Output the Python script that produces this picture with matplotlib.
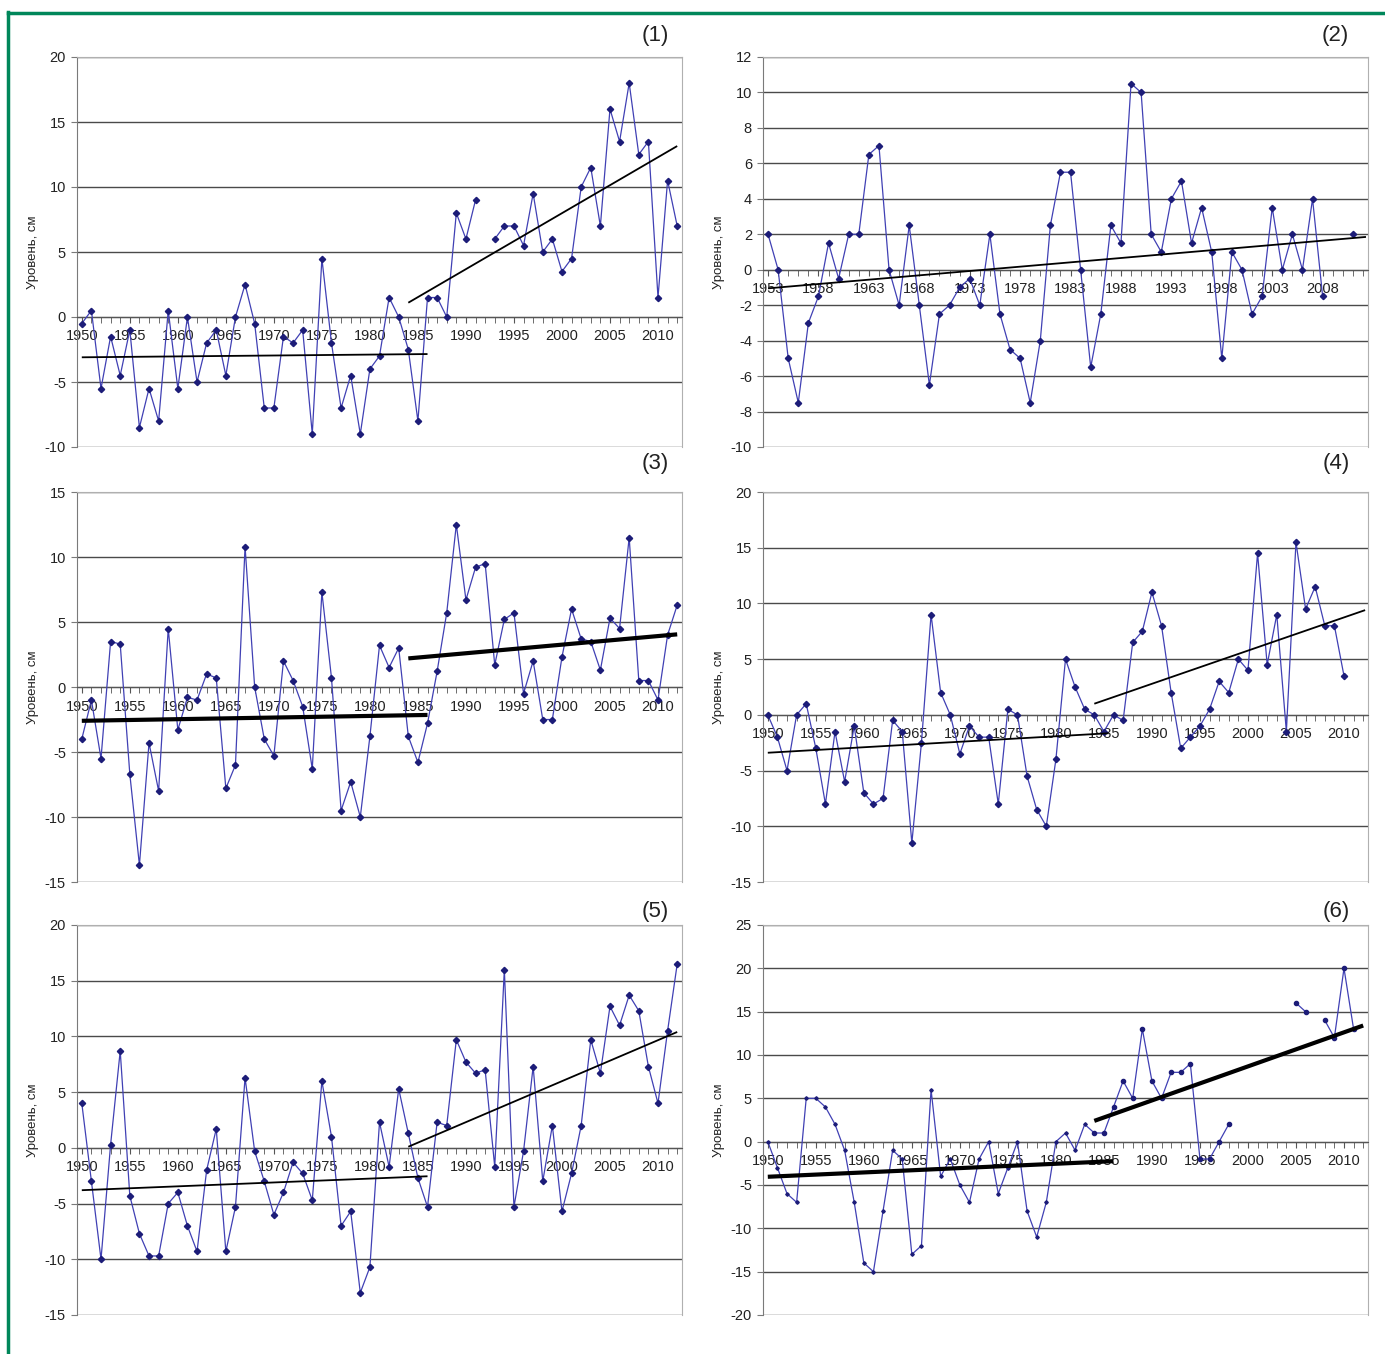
import numpy as np
import matplotlib
matplotlib.use("Agg")
import matplotlib.pyplot as plt
from matplotlib.lines import Line2D
from matplotlib.ticker import MultipleLocator, FixedLocator

plt.rcParams['font.family'] = ['Liberation Sans', 'DejaVu Sans']
plt.rcParams['axes.unicode_minus'] = False

nan = np.nan

# (1)
years1 = np.arange(1950, 2013)
level1 = [-0.5, 0.5, -5.5, -1.5, -4.5, -1, -8.5, -5.5, -8, 0.5,
          -5.5, 0, -5, -2, -1, -4.5, 0, 2.5, -0.5, -7,
          -7, -1.5, -2, -1, -9, 4.5, -2, -7, -4.5, -9,
          -4, -3, 1.5, 0, -2.5, -8, 1.5, 1.5, 0, 8,
          6, 9, nan, 6, 7, 7, 5.5, 9.5, 5, 6,
          3.5, 4.5, 10, 11.5, 7, 16, 13.5, 18, 12.5, 13.5,
          1.5, 10.5, 7]
trend1_early = ([1950, 1986], [-3.1, -2.85])
trend1_late = ([1984, 2012], [1.1, 13.15])

# (2)
years2 = np.arange(1953, 2012)
level2 = [2, 0, -5, -7.5, -3, -1.5, 1.5, -0.5, 2, 2,
          6.5, 7, 0, -2, 2.5, -2, -6.5, -2.5, -2, -1,
          -0.5, -2, 2, -2.5, -4.5, -5, -7.5, -4, 2.5, 5.5,
          5.5, 0, -5.5, -2.5, 2.5, 1.5, 10.5, 10, 2, 1,
          4, 5, 1.5, 3.5, 1, -5, 1, 0, -2.5, -1.5,
          3.5, 0, 2, 0, 4, -1.5, nan, nan, 2]
trend2 = ([1953, 2012.3], [-1.05, 1.85])

# (3)
years3 = np.arange(1950, 2013)
level3 = [-4, -1, -5.5, 3.5, 3.3, -6.7, -13.7, -4.3, -8, 4.5,
          -3.3, -0.8, -1, 1, 0.7, -7.8, -6, 10.8, 0, -4,
          -5.3, 2, 0.5, -1.5, -6.3, 7.3, 0.7, -9.5, -7.3, -10,
          -3.8, 3.2, 1.5, 3, -3.8, -5.8, -2.8, 1.2, 5.7, 12.5,
          6.7, 9.2, 9.5, 1.7, 5.2, 5.7, -0.5, 2, -2.5, -2.5,
          2.3, 6, 3.7, 3.5, 1.3, 5.3, 4.5, 11.5, 0.5, 0.5,
          -1, 4, 6.3]
trend3_early = ([1950, 1986], [-2.6, -2.15])
trend3_late = ([1984, 2012], [2.2, 4.05])

# (4)
years4 = np.arange(1950, 2011)
level4 = [0, -2, -5, 0, 1, -3, -8, -1.5, -6, -1,
          -7, -8, -7.5, -0.5, -1.5, -11.5, -2.5, 9, 2, 0,
          -3.5, -1, -2, -2, -8, 0.5, 0, -5.5, -8.5, -10,
          -4, 5, 2.5, 0.5, 0, -1.5, 0, -0.5, 6.5, 7.5,
          11, 8, 2, -3, -2, -1, 0.5, 3, 2, 5,
          4, 14.5, 4.5, 9, -1.5, 15.5, 9.5, 11.5, 8, 8,
          3.5]
trend4_early = ([1950, 1985.5], [-3.4, -1.65])
trend4_late = ([1984, 2012.2], [1.0, 9.4])

# (5)
years5 = np.arange(1950, 2013)
level5 = [4, -3, -10, 0.3, 8.7, -4.3, -7.7, -9.7, -9.7, -5,
          -4, -7, -9.3, -2, 1.7, -9.3, -5.3, 6.3, -0.3, -3,
          -6, -4, -1.3, -2.3, -4.7, 6, 1, -7, -5.7, -13,
          -10.7, 2.3, -1.7, 5.3, 1.3, -2.7, -5.3, 2.3, 2, 9.7,
          7.7, 6.7, 7, -1.7, 16, -5.3, -0.3, 7.3, -3, 2,
          -5.7, -2.3, 2, 9.7, 6.7, 12.7, 11, 13.7, 12.3, 7.3,
          4, 10.5, 16.5]
trend5_early = ([1950, 1986], [-3.8, -2.55])
trend5_late = ([1984, 2012], [0.1, 10.4])

# (6)
years6 = np.arange(1950, 2012)
level6 = [0, -3, -6, -7, 5, 5, 4, 2, -1, -7,
          -14, -15, -8, -1, -2, -13, -12, 6, -4, -2,
          -5, -7, -2, 0, -6, -3, 0, -8, -11, -7,
          0, 1, -1, 2, 1, 1, 4, 7, 5, 13,
          7, 5, 8, 8, 9, -2, -2, 0, 2, nan,
          nan, nan, nan, nan, nan, 16, 15, nan, 14, 12,
          20, 13]
trend6_early = ([1950, 1986], [-4.05, -2.25])
trend6_late = ([1984, 2012], [2.4, 13.4])

LINE_C = '#4040b4'
MARK_C = '#1c1c78'
GRID_C = '#4a4a4a'
W, H = 1385, 1354


def panel(rect, years, level, trends, ylim, ystep, label_years, xlim, trend_lw, tag, tag_xy,
          small_before=None):
    ax = fig.add_axes([rect[0] / W, 1 - rect[3] / H, (rect[2] - rect[0]) / W, (rect[3] - rect[1]) / H])
    years = np.asarray(years)
    level = np.asarray(level, dtype=float)
    ax.plot(years, level, color=LINE_C, lw=0.9, zorder=3)
    if small_before is None:
        ax.plot(years, level, ls='none', marker='D', ms=3.2, color=MARK_C, zorder=4)
    else:
        m = years < small_before
        ax.plot(years[m], level[m], ls='none', marker='D', ms=1.8, color=MARK_C, zorder=4)
        ax.plot(years[~m], level[~m], ls='none', marker='o', ms=3.0, color=MARK_C, zorder=4)
    for tx, ty in trends:
        ax.plot(tx, ty, color='black', lw=trend_lw, solid_capstyle='butt', zorder=5)

    ax.set_xlim(*xlim)
    ax.set_ylim(*ylim)
    ax.yaxis.set_major_locator(MultipleLocator(ystep))
    ax.yaxis.grid(True, color=GRID_C, lw=1.0)
    ax.set_axisbelow(True)

    ax.spines['bottom'].set_position(('data', 0))
    ax.spines['bottom'].set_color('#555555')
    ax.spines['left'].set_color('#7a7a7a')
    ax.spines['top'].set_color('#b0b0b0')
    ax.spines['right'].set_color('#b0b0b0')
    ax.xaxis.set_major_locator(FixedLocator(label_years))
    ax.xaxis.set_minor_locator(MultipleLocator(1))
    ax.set_xticklabels([str(y) for y in label_years])
    ax.tick_params(axis='x', which='both', direction='out', length=4, color='#555555',
                   labelsize=10.5, labelcolor='#222222', pad=5)
    ax.tick_params(axis='y', direction='out', length=4, color='#7a7a7a',
                   labelsize=10.5, labelcolor='#222222', pad=4)
    ax.set_ylabel('Уровень, см', fontsize=9.5, color='#222222')
    ax.yaxis.set_label_coords(-0.062, 0.5)
    fig.text(tag_xy[0] / W, 1 - tag_xy[1] / H, tag, fontsize=16, color='#222222',
             ha='center', va='center')
    return ax


fig = plt.figure(figsize=(W / 100, H / 100), dpi=100)

five = list(range(1950, 2011, 5))
panel((77, 57, 682, 447), years1, level1, [trend1_early, trend1_late], (-10, 20), 5, five,
      (1949.5, 2012.5), 1.3, '(1)', (655, 35))
panel((763, 57, 1368, 447), years2, level2, [trend2], (-10, 12), 2, list(range(1953, 2009, 5)),
      (1952.5, 2012.5), 1.3, '(2)', (1335, 35))
panel((77, 492, 682, 882), years3, level3, [trend3_early, trend3_late], (-15, 15), 5, five,
      (1949.5, 2012.5), 3.0, '(3)', (655, 464))
panel((763, 492, 1368, 882), years4, level4, [trend4_early, trend4_late], (-15, 20), 5, five,
      (1949.5, 2012.5), 1.3, '(4)', (1336, 464))
panel((77, 925, 682, 1315), years5, level5, [trend5_early, trend5_late], (-15, 20), 5, five,
      (1949.5, 2012.5), 1.3, '(5)', (655, 911))
panel((763, 925, 1368, 1315), years6, level6, [trend6_early, trend6_late], (-20, 25), 5, five,
      (1949.5, 2012.5), 3.0, '(6)', (1336, 911), small_before=1984)

# green frame along top and left edge
fig.add_artist(Line2D([7.5 / W, 1.0], [1 - 12.5 / H, 1 - 12.5 / H], transform=fig.transFigure,
                      color='#00875a', lw=2.5))
fig.add_artist(Line2D([8 / W, 8 / W], [0.0, 1 - 11.5 / H], transform=fig.transFigure,
                      color='#00875a', lw=2.5))

fig.savefig('out.png', dpi=100)
